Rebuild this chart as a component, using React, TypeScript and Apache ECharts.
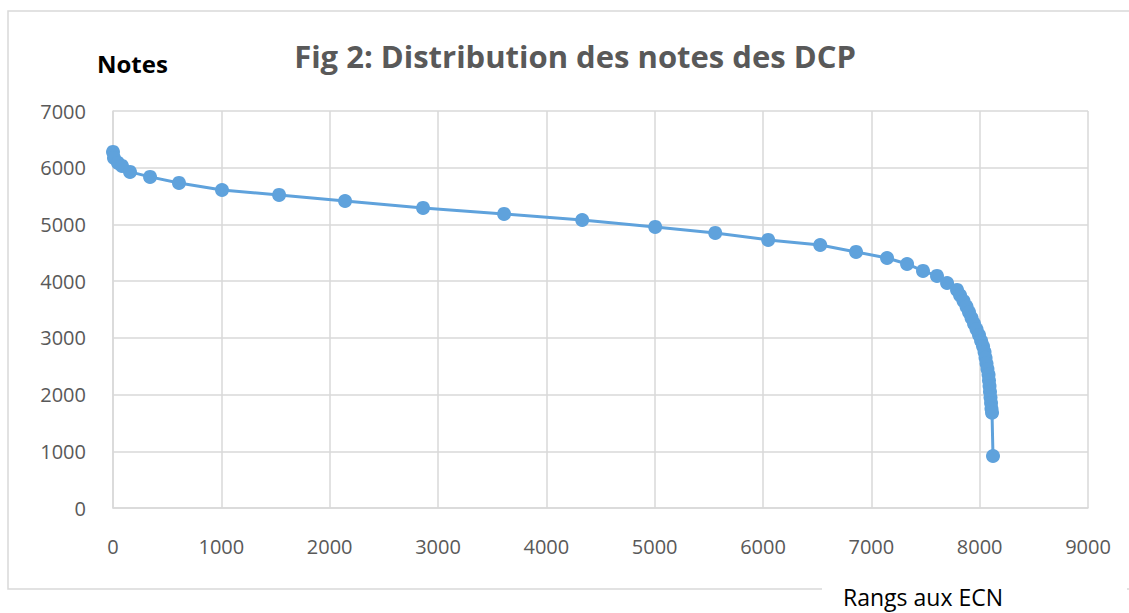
import React, { useEffect, useRef } from "react";
import * as echarts from "echarts";

const ranks = [
  0, 9, 46, 83, 157, 342, 609, 1006, 1533, 2142, 2862, 3610, 4331, 5005, 5559,
  6048, 6528, 6859, 7145, 7330, 7477, 7606, 7699, 7791, 7819, 7851, 7879, 7902,
  7925, 7948, 7971, 7994, 8013, 8031, 8045, 8054, 8063, 8072, 8082, 8086, 8091,
  8095, 8100, 8105, 8109, 8114, 8123,
];
const notes = [
  6279, 6173, 6085, 6032, 5926, 5838, 5732, 5608, 5520, 5414, 5291, 5185, 5079,
  4956, 4850, 4727, 4638, 4515, 4409, 4303, 4180, 4092, 3968, 3845, 3750, 3650,
  3550, 3450, 3350, 3250, 3150, 3050, 2950, 2850, 2750, 2650, 2550, 2450, 2350,
  2250, 2150, 2050, 1950, 1850, 1750, 1680, 917,
];

const titleText = "Fig 2: Distribution des notes des DCP";
const yAxisName = "Notes";
const xAxisName = "Rangs aux ECN";

const FONT = "'Open Sans', sans-serif";

export default function App() {
  const ref = useRef<HTMLDivElement>(null);
  useEffect(() => {
    if (!ref.current) return;
    const chart = echarts.init(ref.current, null, { renderer: "svg" });
    const data = ranks.map((r, i) => [r, notes[i]]);
    const plain = (v: number) => String(v);
    chart.setOption({
      animation: false,
      backgroundColor: "#ffffff",
      grid: { left: 113, right: 41, top: 111, bottom: 105 },
      xAxis: {
        type: "value",
        min: 0,
        max: 9000,
        interval: 1000,
        axisLine: { show: true, lineStyle: { color: "#d9d9d9", width: 1.5 } },
        axisTick: { show: false },
        splitLine: { show: true, lineStyle: { color: "#d9d9d9", width: 1.5 } },
        axisLabel: {
          color: "#595959",
          fontSize: 20,
          fontFamily: FONT,
          margin: 28,
          formatter: plain,
        },
      },
      yAxis: {
        type: "value",
        min: 0,
        max: 7000,
        interval: 1000,
        axisLine: { show: true, lineStyle: { color: "#d9d9d9", width: 1.5 } },
        axisTick: { show: false },
        splitLine: { show: true, lineStyle: { color: "#d9d9d9", width: 1.5 } },
        axisLabel: {
          color: "#595959",
          fontSize: 20,
          fontFamily: FONT,
          margin: 27,
          formatter: plain,
        },
      },
      series: [
        {
          type: "line",
          data,
          symbol: "circle",
          symbolSize: 14,
          showSymbol: true,
          itemStyle: { color: "#5FA2DC" },
          lineStyle: { color: "#5FA2DC", width: 3 },
          z: 3,
        },
      ],
      graphic: [
        {
          type: "rect",
          z: -10,
          silent: true,
          shape: { x: 8, y: 11, width: 1300, height: 578 },
          style: { fill: "none", stroke: "#d9d9d9", lineWidth: 1.5 },
        },
        {
          type: "rect",
          z: 10,
          silent: true,
          shape: { x: 822, y: 584, width: 305, height: 40 },
          style: { fill: "#ffffff" },
        },
        {
          type: "text",
          z: 11,
          x: 575,
          y: 56,
          style: {
            text: titleText,
            fill: "#595959",
            font: `bold 31px ${FONT}`,
            textAlign: "center",
            textVerticalAlign: "middle",
          },
        },
        {
          type: "text",
          z: 11,
          x: 97,
          y: 63,
          style: {
            text: yAxisName,
            fill: "#000000",
            font: `bold 24px ${FONT}`,
            textAlign: "left",
            textVerticalAlign: "middle",
          },
        },
        {
          type: "text",
          z: 11,
          x: 843,
          y: 597,
          style: {
            text: xAxisName,
            fill: "#000000",
            font: `23px ${FONT}`,
            textAlign: "left",
            textVerticalAlign: "middle",
          },
        },
      ],
    });
    return () => chart.dispose();
  }, []);
  return (
    <div
      ref={ref}
      style={{ position: "absolute", left: 0, top: 0, width: 1129, height: 613 }}
    />
  );
}
